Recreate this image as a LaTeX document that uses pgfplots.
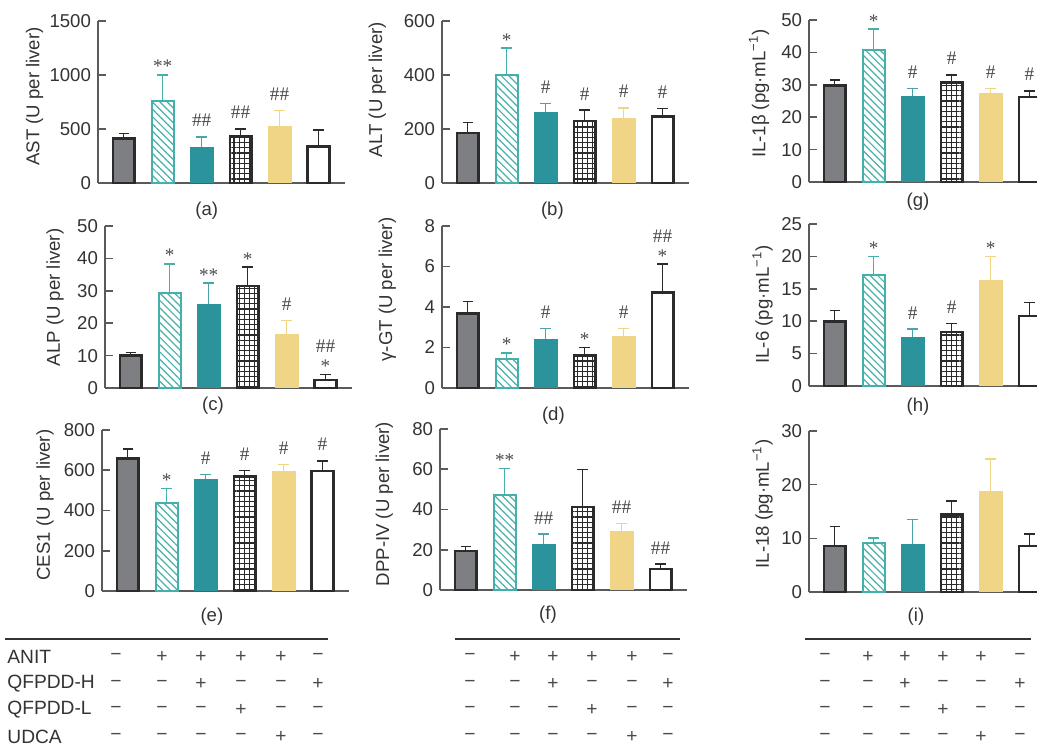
\documentclass[border=0pt]{standalone}
\usepackage{pgfplots}
\pgfplotsset{compat=1.18}
\usepackage{fontspec}
\setmainfont{Liberation Sans}
\newfontfamily\serifsym{Liberation Serif}
\usetikzlibrary{patterns.meta}

\definecolor{dk}{HTML}{2B2B2B}
\definecolor{axgray}{HTML}{5A5A5A}
\definecolor{txt}{HTML}{333333}
\definecolor{gbar}{HTML}{7E7F82}
\definecolor{tealL}{HTML}{45B0AA}
\definecolor{tealD}{HTML}{2B939C}
\definecolor{ylw}{HTML}{F0D586}
\definecolor{anng}{HTML}{4A4A4A}

\newcommand\lbl{\fontsize{9.3}{11}\selectfont}
\newcommand\tbl{\fontsize{9.6}{11.5}\selectfont}
\newcommand\sgnm{−}
\newcommand\sgnp{+}

\tikzset{
  st/.style={font=\serifsym\fontsize{9.6}{10}\selectfont, text=anng, anchor=base, inner sep=0pt, yshift=1.0pt},
  hs/.style={st, yshift=4pt},
  hh/.style={st, yshift=10pt},
  sub/.style={font=\lbl, text=txt, anchor=center},
}

\pgfplotsset{
  panel/.style={
    scale only axis, width=123.5pt, height=81pt, anchor=south west,
    xmin=-0.66, xmax=5.68, ymin=0,
    axis x line*=bottom, axis y line*=left,
    axis line style={draw=axgray, line width=0.8pt},
    xtick=\empty,
    tick align=inside, major tick length=4pt,
    tick style={draw=axgray, line width=0.8pt},
    tick label style={font=\lbl, text=txt},
    label style={font=\lbl, text=txt},
    /pgf/number format/assume math mode=true,
    /pgf/number format/set thousands separator={},
    clip=false,
  },
  errs/.style={error bars/.cd, y dir=plus, y explicit,
    error mark=-,
    error bar style={draw=#1, line width=0.75pt},
    error mark options={rotate=90, draw=#1, line width=0.75pt, mark size=2.6pt}},
  % control
  bA/.style={ybar, bar width=0.55, bar shift=0pt, fill=gbar, draw=dk, line width=1.3pt, errs=dk},
  % ANIT
  bB/.style={ybar, bar width=0.565, bar shift=0pt, fill=white, draw=tealL, line width=1pt,
    pattern={Lines[angle=-45,distance=2.6pt,line width=0.6pt]}, pattern color=tealL, errs=tealL},
  % ANIT + QFPDD-H
  bC/.style={ybar, bar width=0.616, bar shift=0pt, fill=tealD, draw=none, errs=tealD!85},
  % ANIT + QFPDD-L
  bD/.style={ybar, bar width=0.55, bar shift=0pt, draw=dk, line width=1.3pt,
    pattern={Hatch[angle=0,distance=2.6pt,line width=0.55pt]}, pattern color=dk, errs=dk},
  % ANIT + UDCA
  bE/.style={ybar, bar width=0.616, bar shift=0pt, fill=ylw, draw=none, errs=ylw},
  % QFPDD-H
  bF/.style={ybar, bar width=0.55, bar shift=0pt, fill=white, draw=dk, line width=1.3pt, errs=dk},
}

\begin{document}
\begin{tikzpicture}
\useasboundingbox (0,0) rectangle (518.5pt,375.5pt);
\clip (0,0) rectangle (518.5pt,375.5pt);

% ---------------- (a) AST
\begin{axis}[panel, at={(49pt,284pt)}, ymax=1500, ytick={0,500,1000,1500},
  ylabel={AST (U per liver)}, ylabel style={at={(axis description cs:-0.257,0.534)}, anchor=center}]
\addplot[bA] coordinates {(0,410) +- (0,50)};
\addplot[bB] coordinates {(1,760) +- (0,240)};
\addplot[bC] coordinates {(2,330) +- (0,98)};
\addplot[bD] coordinates {(3,430) +- (0,70)};
\addplot[bE] coordinates {(4,525) +- (0,145)};
\addplot[bF] coordinates {(5,340) +- (0,150)};
\node[st] at (axis cs:1,1000) {**};
\node[hs] at (axis cs:2,428) {\#\#};
\node[hs] at (axis cs:3,500) {\#\#};
\node[hs] at (axis cs:4,670) {\#\#};
\node[sub] at (axis description cs:0.44,-0.173) {(a)};
\end{axis}

% ---------------- (b) ALT
\begin{axis}[panel, at={(221pt,284pt)}, ymax=600, ytick={0,200,400,600},
  ylabel={ALT (U per liver)}, ylabel style={at={(axis description cs:-0.262,0.577)}, anchor=center}]
\addplot[bA] coordinates {(0,185) +- (0,40)};
\addplot[bB] coordinates {(1,400) +- (0,100)};
\addplot[bC] coordinates {(2,264) +- (0,30)};
\addplot[bD] coordinates {(3,230) +- (0,40)};
\addplot[bE] coordinates {(4,240) +- (0,38)};
\addplot[bF] coordinates {(5,246) +- (0,30)};
\node[st] at (axis cs:1,500) {*};
\node[hs] at (axis cs:2,294) {\#};
\node[hs] at (axis cs:3,270) {\#};
\node[hs] at (axis cs:4,278) {\#};
\node[hs] at (axis cs:5,276) {\#};
\node[sub] at (axis description cs:0.447,-0.173) {(b)};
\end{axis}

% ---------------- (g) IL-1beta
\begin{axis}[panel, at={(404.5pt,284.5pt)}, ymax=50, ytick={0,10,...,50},
  ylabel={IL-1β (pg·mL\textsuperscript{−1})}, ylabel style={at={(axis description cs:-0.202,0.546)}, anchor=center}]
\addplot[bA] coordinates {(0,29.7) +- (0,1.8)};
\addplot[bB] coordinates {(1,40.8) +- (0,6.4)};
\addplot[bC] coordinates {(2,26.6) +- (0,2.3)};
\addplot[bD] coordinates {(3,30.8) +- (0,2.3)};
\addplot[bE] coordinates {(4,27.4) +- (0,1.5)};
\addplot[bF] coordinates {(5,26.2) +- (0,1.9)};
\node[st] at (axis cs:1,47.2) {*};
\node[hs] at (axis cs:2,28.9) {\#};
\node[hs] at (axis cs:3,33.1) {\#};
\node[hs] at (axis cs:4,28.9) {\#};
\node[hs] at (axis cs:5,28.1) {\#};
\node[sub] at (axis description cs:0.441,-0.123) {(g)};
\end{axis}

% ---------------- (c) ALP
\begin{axis}[panel, at={(52.5pt,181.5pt)}, ymax=50, ytick={0,10,...,50},
  ylabel={ALP (U per liver)}, ylabel style={at={(axis description cs:-0.202,0.559)}, anchor=center}]
\addplot[bA] coordinates {(0,10.0) +- (0,0.9)};
\addplot[bB] coordinates {(1,29.4) +- (0,8.9)};
\addplot[bC] coordinates {(2,25.8) +- (0,6.6)};
\addplot[bD] coordinates {(3,31.5) +- (0,5.8)};
\addplot[bE] coordinates {(4,16.8) +- (0,4.1)};
\addplot[bF] coordinates {(5,2.5) +- (0,1.7)};
\node[st] at (axis cs:1,38.3) {*};
\node[st] at (axis cs:2,32.4) {**};
\node[st] at (axis cs:3,37.3) {*};
\node[hs] at (axis cs:4,20.9) {\#};
\node[st] at (axis cs:5,4.2) {*};
\node[hh] at (axis cs:5,4.2) {\#\#};
\node[sub] at (axis description cs:0.437,-0.111) {(c)};
\end{axis}

% ---------------- (d) gamma-GT
\begin{axis}[panel, at={(221pt,181.5pt)}, ymax=8, ytick={0,2,...,8},
  ylabel={γ-GT (U per liver)}, ylabel style={at={(axis description cs:-0.221,0.608)}, anchor=center}]
\addplot[bA] coordinates {(0,3.67) +- (0,0.61)};
\addplot[bB] coordinates {(1,1.43) +- (0,0.30)};
\addplot[bC] coordinates {(2,2.42) +- (0,0.51)};
\addplot[bD] coordinates {(3,1.61) +- (0,0.40)};
\addplot[bE] coordinates {(4,2.55) +- (0,0.38)};
\addplot[bF] coordinates {(5,4.71) +- (0,1.41)};
\node[st] at (axis cs:1,1.73) {*};
\node[hs] at (axis cs:2,2.93) {\#};
\node[st] at (axis cs:3,2.01) {*};
\node[hs] at (axis cs:4,2.93) {\#};
\node[st] at (axis cs:5,6.12) {*};
\node[hh] at (axis cs:5,6.12) {\#\#};
\node[sub] at (axis description cs:0.451,-0.173) {(d)};
\end{axis}

% ---------------- (h) IL-6
\begin{axis}[panel, at={(404.5pt,182.5pt)}, ymax=25, ytick={0,5,...,25},
  ylabel={IL-6 (pg·mL\textsuperscript{−1})}, ylabel style={at={(axis description cs:-0.188,0.503)}, anchor=center}]
\addplot[bA] coordinates {(0,9.95) +- (0,1.70)};
\addplot[bB] coordinates {(1,17.06) +- (0,2.89)};
\addplot[bC] coordinates {(2,7.58) +- (0,1.18)};
\addplot[bD] coordinates {(3,8.35) +- (0,1.29)};
\addplot[bE] coordinates {(4,16.3) +- (0,3.65)};
\addplot[bF] coordinates {(5,10.8) +- (0,2.1)};
\node[st] at (axis cs:1,19.95) {*};
\node[hs] at (axis cs:2,8.76) {\#};
\node[hs] at (axis cs:3,9.64) {\#};
\node[st] at (axis cs:4,19.95) {*};
\node[sub] at (axis description cs:0.441,-0.130) {(h)};
\end{axis}

% ---------------- (e) CES1
\begin{axis}[panel, at={(51pt,80pt)}, height=80.5pt, ymax=800, ytick={0,200,...,800},
  ylabel={CES1 (U per liver)}, ylabel style={at={(axis description cs:-0.231,0.534)}, anchor=center}]
\addplot[bA] coordinates {(0,658) +- (0,47)};
\addplot[bB] coordinates {(1,435) +- (0,75)};
\addplot[bC] coordinates {(2,555) +- (0,25)};
\addplot[bD] coordinates {(3,568) +- (0,32)};
\addplot[bE] coordinates {(4,598) +- (0,30)};
\addplot[bF] coordinates {(5,597) +- (0,50)};
\node[st] at (axis cs:1,510) {*};
\node[hs] at (axis cs:2,580) {\#};
\node[hs] at (axis cs:3,600) {\#};
\node[hs] at (axis cs:4,628) {\#};
\node[hs] at (axis cs:5,647) {\#};
\node[sub] at (axis description cs:0.445,-0.161) {(e)};
\end{axis}

% ---------------- (f) DPP-IV
\begin{axis}[panel, at={(220pt,80.5pt)}, height=80.5pt, ymax=80, ytick={0,20,...,80},
  ylabel={DPP-IV (U per liver)}, ylabel style={at={(axis description cs:-0.225,0.534)}, anchor=center}]
\addplot[bA] coordinates {(0,19.4) +- (0,2.1)};
\addplot[bB] coordinates {(1,47.2) +- (0,13.1)};
\addplot[bC] coordinates {(2,22.7) +- (0,5.1)};
\addplot[bD] coordinates {(3,41.2) +- (0,18.7)};
\addplot[bE] coordinates {(4,29.5) +- (0,3.6)};
\addplot[bF] coordinates {(5,10.4) +- (0,2.5)};
\node[st] at (axis cs:1,60.3) {**};
\node[hs] at (axis cs:2,27.8) {\#\#};
\node[hs] at (axis cs:4,33.1) {\#\#};
\node[hs] at (axis cs:5,12.9) {\#\#};
\node[sub] at (axis description cs:0.437,-0.155) {(f)};
\end{axis}

% ---------------- (i) IL-18
\begin{axis}[panel, at={(404.5pt,79.5pt)}, height=80.5pt, ymax=30, ytick={0,10,20,30},
  ylabel={IL-18 (pg·mL\textsuperscript{−1})}, ylabel style={at={(axis description cs:-0.188,0.547)}, anchor=center}]
\addplot[bA] coordinates {(0,8.6) +- (0,3.6)};
\addplot[bB] coordinates {(1,9.1) +- (0,1.0)};
\addplot[bC] coordinates {(2,9.0) +- (0,4.5)};
\addplot[bD] coordinates {(3,14.4) +- (0,2.6)};
\addplot[bE] coordinates {(4,18.9) +- (0,5.9)};
\addplot[bF] coordinates {(5,8.6) +- (0,2.2)};
\node[sub] at (axis description cs:0.433,-0.155) {(i)};
\end{axis}

% ---------------- treatment table
\begin{scope}[x=0.5pt, y=-0.5pt, yshift=375.5pt]
  \draw[txt, line width=0.75pt] (5,639) -- (328,639);
  \draw[txt, line width=0.75pt] (455,639) -- (680,639);
  \draw[txt, line width=0.75pt] (805,639) -- (1031,639);
  \foreach \y/\name in {657/ANIT, 684/QFPDD-H, 710/QFPDD-L, 737/UDCA}
    \node[font=\tbl, text=txt, anchor=west, inner sep=0pt] at (7,\y) {\name};
  \foreach \xa/\xb/\xc/\xd/\xe/\xf in {116/162/201/241/281/318, 470/515/553/592/632/668, 825/868/905/943/981/1020}
    \foreach \y/\sa/\sb/\sc/\sd/\se/\sf in {657/\sgnm/\sgnp/\sgnp/\sgnp/\sgnp/\sgnm, 684/\sgnm/\sgnm/\sgnp/\sgnm/\sgnm/\sgnp, 710/\sgnm/\sgnm/\sgnm/\sgnp/\sgnm/\sgnm, 737/\sgnm/\sgnm/\sgnm/\sgnm/\sgnp/\sgnm}{
      \node[font=\tbl, text=anng, inner sep=0pt] at (\xa,\y) {\sa};
      \node[font=\tbl, text=anng, inner sep=0pt] at (\xb,\y) {\sb};
      \node[font=\tbl, text=anng, inner sep=0pt] at (\xc,\y) {\sc};
      \node[font=\tbl, text=anng, inner sep=0pt] at (\xd,\y) {\sd};
      \node[font=\tbl, text=anng, inner sep=0pt] at (\xe,\y) {\se};
      \node[font=\tbl, text=anng, inner sep=0pt] at (\xf,\y) {\sf};
    }
\end{scope}
\end{tikzpicture}
\end{document}
